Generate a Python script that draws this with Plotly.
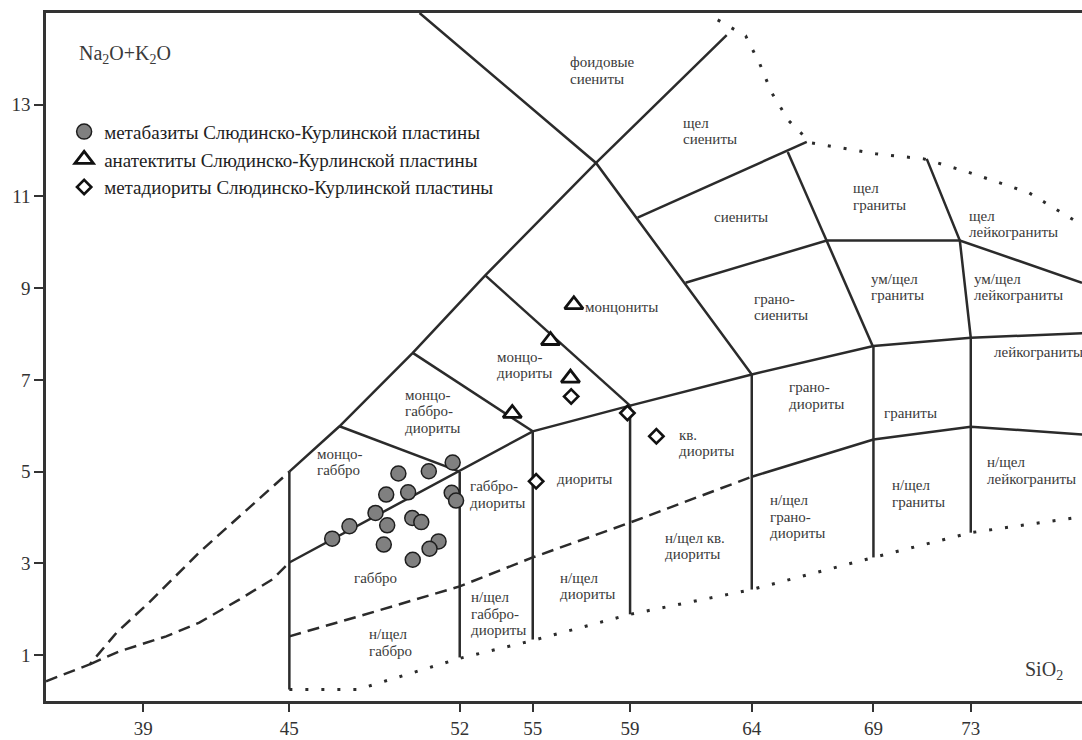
import plotly.graph_objects as go

LINE_COLOR = "#2b2b2b"
TEXT_COLOR = "#3a3a3a"
FONT = "Liberation Serif, Times New Roman, serif"

# ---------------- sample data (SiO2, Na2O+K2O) ----------------
metabasite_sio2 = [46.76, 47.47, 48.54, 49.02, 48.98, 49.48, 49.88, 50.73, 51.71,
                   51.67, 51.85, 50.05, 50.42, 48.88, 51.13, 50.76, 50.07]
metabasite_alk = [3.54, 3.81, 4.10, 3.83, 4.50, 4.96, 4.55, 5.01, 5.20,
                  4.54, 4.37, 3.99, 3.90, 3.41, 3.48, 3.32, 3.08]
anatexite_sio2 = [56.69, 55.73, 56.55, 54.16]
anatexite_alk = [8.64, 7.86, 7.04, 6.27]
metadiorite_sio2 = [56.58, 58.89, 60.08, 55.14]
metadiorite_alk = [6.64, 6.28, 5.77, 4.79]

series_names = ["метабазиты Слюдинско-Курлинской пластины",
                "анатектиты Слюдинско-Курлинской пластины",
                "метадиориты Слюдинско-Курлинской пластины"]

# ---------------- classification boundaries ----------------
# solid
alk_upper_x = [45, 47.06, 50.07, 53.05, 57.6, 62.97]
alk_upper_y = [5.0, 5.99, 7.59, 9.28, 11.73, 14.52]
foid_lower_x = [50.35, 57.6, 64.0]
foid_lower_y = [15.0, 11.73, 7.12]
syen_lower_x = [59.31, 66.26]
syen_lower_y = [10.54, 12.19]
granosyen_top_x = [61.28, 67.08, 72.55, 77.57]
granosyen_top_y = [9.12, 10.04, 10.04, 9.12]
b69_upper_x = [65.48, 68.97]
b69_upper_y = [11.97, 7.74]
b73_upper_x = [71.19, 72.55, 73.0]
b73_upper_y = [11.82, 10.04, 7.92]
middle_x = [45, 55, 59, 64, 69, 73, 77.6]
middle_y = [3.02, 5.88, 6.44, 7.12, 7.74, 7.92, 8.02]
monzodior_x = [50.07, 55]
monzodior_y = [7.59, 5.88]
monzogab_x = [47.06, 52]
monzogab_y = [5.99, 5.0]
monzonite_x = [53.05, 59]
monzonite_y = [9.28, 6.44]
lower_alk_x = [64, 69, 73, 77.6]
lower_alk_y = [4.89, 5.70, 5.98, 5.81]
vert_x = [45, 52, 55, 59, 64, 69, 73]
vert_top = [5.0, 5.0, 5.88, 6.44, 7.12, 7.74, 7.92]
vert_bottom = [0.25, 0.95, 1.34, 1.89, 2.43, 3.13, 3.67]

# dashed
subalk_x = [45, 47.88, 52, 55, 59, 64]
subalk_y = [1.41, 1.85, 2.5, 3.13, 3.89, 4.89]
left_a_x = [35, 36.8, 37.9, 39.24, 41.3, 42.94, 45]
left_a_y = [0.43, 0.8, 1.49, 2.15, 3.24, 4.02, 5.0]
left_b_x = [36.8, 38.0, 39.94, 41.3, 42.94, 44.3, 45]
left_b_y = [0.8, 1.08, 1.41, 1.71, 2.21, 2.65, 3.02]

# dotted
dot_bottom_x = [45, 47.8, 52, 55, 59, 64, 69, 73, 77.6]
dot_bottom_y = [0.25, 0.25, 0.93, 1.32, 1.89, 2.43, 3.13, 3.67, 4.02]
dot_top_x = [62.6, 63.75, 64.33, 64.82, 65.52, 66.43, 69.1, 71.07, 72.84, 75.39, 77.28]
dot_top_y = [14.85, 14.5, 13.89, 13.26, 12.65, 12.17, 11.93, 11.82, 11.54, 11.08, 10.47]

# ---------------- region names ----------------
region_names = [
    ["фоидовые", "сиениты"], ["щел", "сиениты"], ["сиениты"], ["щел", "граниты"],
    ["щел", "лейкограниты"], ["грано-", "сиениты"], ["ум/щел", "граниты"],
    ["ум/щел", "лейкограниты"], ["лейкограниты"], ["монцониты"], ["монцо-", "диориты"],
    ["монцо-", "габбро-", "диориты"], ["монцо-", "габбро"], ["габбро-", "диориты"],
    ["диориты"], ["кв.", "диориты"], ["грано-", "диориты"], ["граниты"],
    ["н/щел", "лейкограниты"], ["габбро"], ["н/щел", "габбро"],
    ["н/щел", "габбро-", "диориты"], ["н/щел", "диориты"], ["н/щел кв.", "диориты"],
    ["н/щел", "грано-", "диориты"], ["н/щел", "граниты"],
]
region_x = [56.43, 61.08, 62.35, 68.07, 72.84, 64.0, 68.81, 73.04, 73.87, 57.05, 53.47,
            49.65, 46.07, 52.32, 55.90, 60.91, 65.44, 69.34, 73.58, 47.59, 48.17,
            52.40, 56.02, 60.34, 64.65, 69.67]
region_y = [13.93, 12.61, 10.56, 11.18, 10.58, 8.77, 9.21, 9.21, 7.61, 8.58, 7.51,
            6.68, 5.39, 4.68, 4.83, 5.80, 6.84, 6.29, 5.20, 2.69, 1.45,
            2.26, 2.69, 3.56, 4.38, 4.70]

x_ticks = [39, 45, 52, 55, 59, 64, 69, 73]
y_ticks = [1, 3, 5, 7, 9, 11, 13]

fig = go.Figure()


def add_line(xs, ys, dash="solid", width=2.5):
    fig.add_trace(go.Scatter(x=xs, y=ys, mode="lines", showlegend=False,
                             hoverinfo="skip",
                             line=dict(color=LINE_COLOR, width=width, dash=dash)))


for xs, ys in [(alk_upper_x, alk_upper_y), (foid_lower_x, foid_lower_y),
               (syen_lower_x, syen_lower_y), (granosyen_top_x, granosyen_top_y),
               (b69_upper_x, b69_upper_y), (b73_upper_x, b73_upper_y),
               (middle_x, middle_y), (monzodior_x, monzodior_y),
               (monzogab_x, monzogab_y), (monzonite_x, monzonite_y),
               (lower_alk_x, lower_alk_y)]:
    add_line(xs, ys)
for vx, vt, vb in zip(vert_x, vert_top, vert_bottom):
    add_line([vx, vx], [vt, vb])
for xs, ys in [(subalk_x, subalk_y), (left_a_x, left_a_y), (left_b_x, left_b_y)]:
    add_line(xs, ys, dash="12px,7px")
for xs, ys in [(dot_bottom_x, dot_bottom_y), (dot_top_x, dot_top_y)]:
    add_line(xs, ys, dash="3px,13px", width=3)

fig.add_trace(go.Scatter(x=metabasite_sio2, y=metabasite_alk, mode="markers",
                         name=series_names[0],
                         marker=dict(symbol="circle", size=15, color="#808080",
                                     line=dict(color="#1e1e1e", width=1.5))))
fig.add_trace(go.Scatter(x=anatexite_sio2, y=anatexite_alk, mode="markers",
                         name=series_names[1],
                         marker=dict(symbol="triangle-up", size=16, color="white",
                                     line=dict(color="#111111", width=2.8))))
fig.add_trace(go.Scatter(x=metadiorite_sio2, y=metadiorite_alk, mode="markers",
                         name=series_names[2],
                         marker=dict(symbol="diamond", size=11, color="white",
                                     line=dict(color="#111111", width=2.6))))

annotations = []
for lines, ax, ay in zip(region_names, region_x, region_y):
    for i, txt in enumerate(lines):
        annotations.append(dict(x=ax, y=ay, xref="x", yref="y", text=txt,
                                showarrow=False, xanchor="left", yanchor="middle",
                                yshift=-16.5 * i,
                                font=dict(family=FONT, size=15, color=TEXT_COLOR)))
annotations.append(dict(x=36.28, y=14.09, xref="x", yref="y",
                        text="Na<sub>2</sub>O+K<sub>2</sub>O", showarrow=False,
                        xanchor="left", yanchor="middle",
                        font=dict(family=FONT, size=20, color=TEXT_COLOR)))
annotations.append(dict(x=76.87, y=0.67, xref="x", yref="y",
                        text="SiO<sub>2</sub>", showarrow=False,
                        xanchor="right", yanchor="middle",
                        font=dict(family=FONT, size=20, color=TEXT_COLOR)))

fig.update_layout(
    width=1082, height=740,
    margin=dict(l=46, r=0, t=13, b=39),
    paper_bgcolor="white", plot_bgcolor="white",
    font=dict(family=FONT, color=TEXT_COLOR),
    annotations=annotations,
    legend=dict(x=0.0175, y=0.855, xanchor="left", yanchor="top",
                bgcolor="rgba(0,0,0,0)", itemwidth=30,
                font=dict(family=FONT, size=19, color="#222222")),
    xaxis=dict(range=[35, 77.57], tickvals=x_ticks, showgrid=False, zeroline=False,
               showline=True, mirror=True, linecolor="#333333", linewidth=2.5,
               ticks="outside", ticklen=8, tickwidth=2, tickcolor="#333333",
               tickfont=dict(family=FONT, size=19, color="#333333")),
    yaxis=dict(range=[0, 15], tickvals=y_ticks, showgrid=False, zeroline=False,
               showline=True, mirror=False, linecolor="#333333", linewidth=2.5,
               ticks="outside", ticklen=9, tickwidth=2, tickcolor="#333333",
               tickfont=dict(family=FONT, size=19, color="#333333")),
)

fig.write_html("out.html",
               config={"displayModeBar": False},
               post_script="document.body.style.margin='0';"
                           "document.body.style.overflow='hidden';")
